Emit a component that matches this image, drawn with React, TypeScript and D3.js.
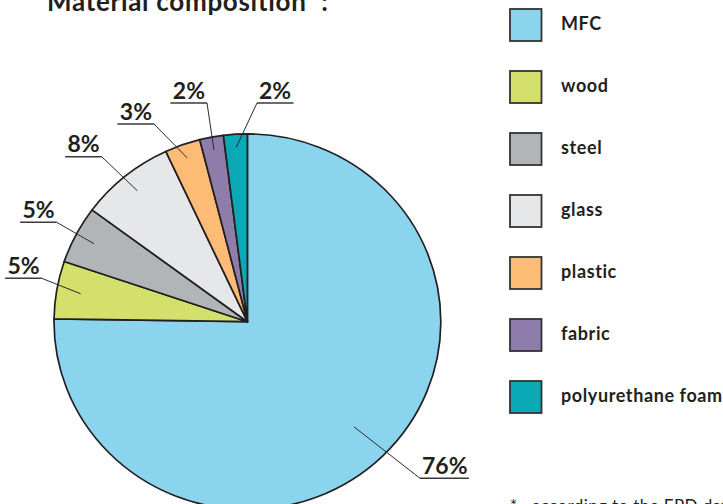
import React from "react";
import * as d3 from "d3";

// ---- data ----
const categories = ["MFC", "wood", "steel", "glass", "plastic", "fabric", "polyurethane foam"];
const values = [76, 5, 5, 8, 3, 2, 2];
const percentLabels = ["76%", "5%", "5%", "8%", "3%", "2%", "2%"];
const colors = ["#8ad5ed", "#d3e06c", "#b2b5b7", "#e6e7e8", "#fdbc75", "#8e7cab", "#0ba9b5"];

// ---- layout (annotation placement, relative to pie centre) ----
const labelInnerFactor = [0.785, 0.875, 0.895, 0.9, 0.925, 0.93, 0.93];
const labelElbows: { dx: number; dy: number; side: "left" | "right" }[] = [
  { dx: 172.6, dy: 156.6, side: "right" },
  { dx: -205.7, dy: -43.4, side: "left" },
  { dx: -190.7, dy: -99.4, side: "left" },
  { dx: -145.7, dy: -165, side: "left" },
  { dx: -93.4, dy: -197.7, side: "left" },
  { dx: -40.4, dy: -218.7, side: "left" },
  { dx: 9.6, dy: -218.7, side: "right" },
];

const W = 723;
const H = 504;
const CX = 247.4;
const CY = 321.7;
const R = 193.4;
const SY = 0.971;
const FONT = "Lato, 'Open Sans', sans-serif";
const INK = "#231f20";

export default function App() {
  const pie = d3
    .pie<number>()
    .sort(null)
    .value((d) => d);
  const arcs = pie(values);
  const arc = d3.arc<d3.PieArcDatum<number>>().innerRadius(0).outerRadius(R);

  return (
    <svg
      width={W}
      height={H}
      viewBox={`0 0 ${W} ${H}`}
      style={{ position: "absolute", left: 0, top: 0, background: "#fff" }}
    >
      {/* title */}
      <text x={47} y={10.5} fontFamily={FONT} fontWeight={700} fontSize={26} letterSpacing={0.7} fill={INK}>
        Material composition{" "}
        <tspan fontSize={16} dy={-8}>*</tspan>
        <tspan dy={8}>:</tspan>
      </text>

      {/* pie */}
      <g transform={`translate(${CX},${CY}) scale(1,${SY})`}>
        {arcs.map((a, i) => (
          <path
            key={categories[i]}
            d={arc(a) || ""}
            fill={colors[i]}
            stroke={INK}
            strokeWidth={1.7}
            strokeLinejoin="round"
            vectorEffect="non-scaling-stroke"
          />
        ))}
      </g>

      {/* labels */}
      {arcs.map((a, i) => {
        const ang = (a.startAngle + a.endAngle) / 2;
        const r = R * labelInnerFactor[i];
        const ix = CX + r * Math.sin(ang);
        const iy = CY - r * Math.cos(ang) * SY;
        const el = labelElbows[i];
        const ex = CX + el.dx;
        const ey = CY + el.dy;
        const txt = percentLabels[i];
        const len = txt.length * 12.3 + 12;
        const ux2 = el.side === "left" ? ex - len : ex + len;
        return (
          <g key={"lbl" + i}>
            <line x1={ix} y1={iy} x2={ex} y2={ey} stroke="#2b2b2b" strokeWidth={1} />
            <line x1={ex} y1={ey} x2={ux2} y2={ey} stroke="#3a3a3a" strokeWidth={1.6} />
            <text
              x={el.side === "left" ? ex - 2 : ex + 2}
              y={ey - 4.5}
              textAnchor={el.side === "left" ? "end" : "start"}
              fontFamily={FONT}
              fontWeight={700}
              fontSize={23}
              fill={INK}
            >
              {txt}
            </text>
          </g>
        );
      })}

      {/* legend */}
      {categories.map((c, i) => {
        const y = 9 + i * 62;
        return (
          <g key={"leg" + c}>
            <rect x={510} y={y} width={31.5} height={32} fill={colors[i]} stroke="#333" strokeWidth={1.8} />
            <text
              x={561}
              y={y + 20.5}
              fontFamily={FONT}
              fontWeight={700}
              fontSize={18}
              letterSpacing={0.6}
              fill={INK}
            >
              {c}
            </text>
          </g>
        );
      })}

      {/* footnote */}
      <text x={510} y={512} fontFamily={FONT} fontSize={17} letterSpacing={0.4} fill={INK} xmlSpace="preserve">
        *   according to the EPD data
      </text>
    </svg>
  );
}
